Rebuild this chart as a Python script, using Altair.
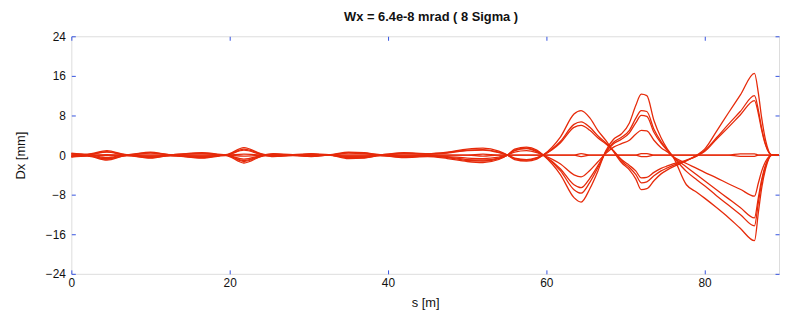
import altair as alt
import pandas as pd

S = [0, 2, 4.5, 7, 10, 12.5, 16.5, 19.5, 21.8, 24.5, 25.5, 28, 30.3, 32.5, 35, 37, 39, 42, 45,
     47.5, 50, 52, 54, 55.1, 56, 57.5, 58.8, 59.6, 61.8, 63.5, 64.4, 65.5, 66.5, 67.5, 68.5,
     69.5, 70.5, 71.3, 72.0, 72.7, 73.6, 74.5, 75.3, 76.0, 77.7, 79, 80, 81.5, 83, 84.5, 86.3,
     86.8, 87.2, 87.7, 88.5, 89.4]

# Dx [mm] of each trace
A1 = [0.4, 0.2, 0.9, 0.1, 0.6, 0.1, 0.5, 0.1, 1.5, 0.1, 0.3, 0.1, 0.3, 0.1, 0.6, 0.5, 0.1, 0.5, 0.3,
      0.6, 1.2, 1.4, 0.8, 0, -0.9, -1.2, -0.8, 0, 3.7, 8.3, 9.0, 7.5, 5.0, 3.0, 0.7,
      -1.5, -3.0, -4.8, -7.0, -6.8, -5.2, -3.8, -3.0, -2.4, -1.2, 0.0, 1.2, 4.8, 8.5, 12.1, 16.5,
      12.4, 7.6, 3.0, 0, 0]
A2 = [0.3, 0.1, 0.7, 0.1, 0.5, 0.1, 0.4, 0.0, 1.2, 0.1, 0.2, 0.0, 0.2, 0.0, 0.5, 0.4, 0.1, 0.4, 0.2,
      0.5, 1.0, 1.1, 0.6, 0, -0.7, -1.0, -0.6, 0, 2.8, 6.2, 6.7, 5.6, 3.9, 2.5, 0.8,
      -1.2, -2.5, -3.9, -5.6, -5.4, -4.2, -3.2, -2.6, -2.1, -1.1, -0.2, 0.9, 3.5, 6.2, 8.8, 12.0,
      9.0, 5.5, 2.2, 0, 0]
A3 = [0.2, 0.1, 0.6, 0.0, 0.4, 0.1, 0.3, 0.0, 1.0, 0.0, 0.2, 0.0, 0.2, 0.0, 0.4, 0.3, 0.0, 0.3, 0.2,
      0.4, 0.9, 1.0, 0.5, 0, -0.6, -0.9, -0.5, 0, 2.5, 5.6, 6.0, 5.0, 3.5, 2.3, 0.9,
      -0.9, -2.1, -3.2, -4.6, -4.5, -3.5, -2.7, -2.2, -1.8, -1.0, -0.2, 0.7, 3.2, 5.6, 8.1, 11.0,
      8.3, 5.1, 2.0, 0, 0]
B1 = [-0.4, -0.2, -1.0, -0.1, -0.6, -0.1, -0.6, -0.1, -1.6, -0.1, -0.3, -0.1, -0.3, 0.0, -0.7, -0.6, -0.1, -0.5, -0.3,
      -0.7, -1.3, -1.5, -0.9, 0, 1.2, 1.6, 1.0, 0, -4.0, -8.6, -9.5, -6.8, -3.3, 0.8, 3.2,
      4.3, 6.5, 10.0, 12.3, 12.0, 7.0, 3.5, 1.2, -0.3, -6.0, -7.5, -8.7, -10.6, -12.6, -14.8, -17.3,
      -11.5, -6.8, -2.8, 0, 0]
B2 = [-0.3, -0.1, -0.8, -0.1, -0.5, -0.1, -0.5, 0.0, -1.3, -0.1, -0.2, 0.0, -0.2, 0.0, -0.5, -0.5, -0.1, -0.4, -0.2,
      -0.5, -1.1, -1.2, -0.7, 0, 1.0, 1.4, 0.8, 0, -3.2, -7.0, -7.7, -5.5, -2.6, 0.6, 2.6,
      3.6, 5.0, 7.4, 9.0, 8.8, 5.2, 2.7, 1.0, -0.3, -3.3, -5.0, -6.2, -8.2, -10.1, -12.0, -14.3,
      -9.5, -5.6, -2.3, 0, 0]
B3 = [-0.3, -0.1, -0.7, 0.0, -0.4, -0.1, -0.4, 0.0, -1.1, 0.0, -0.2, 0.0, -0.2, 0.0, -0.4, -0.4, 0.0, -0.3, -0.2,
      -0.4, -0.9, -1.0, -0.6, 0, 0.9, 1.3, 0.7, 0, -2.8, -6.0, -6.6, -4.7, -2.2, 0.5, 2.3,
      3.2, 4.5, 6.5, 8.0, 7.8, 4.6, 2.4, 0.9, -0.3, -2.4, -4.0, -5.2, -7.0, -8.8, -10.6, -12.7,
      -8.5, -5.0, -2.0, 0, 0]
B4 = [-0.2, 0.1, -0.5, 0.1, -0.3, 0.0, -0.3, 0.0, -0.8, 0.0, -0.1, 0.0, -0.1, 0.0, -0.3, -0.3, 0.0, -0.2, -0.1,
      -0.3, -0.6, -0.7, -0.4, 0, 0.6, 0.9, 0.5, 0, -1.8, -4.0, -4.4, -3.1, -1.4, 0.3, 1.6,
      2.3, 3.0, 4.2, 5.0, 4.9, 3.0, 1.5, 0.6, -0.3, -1.7, -2.7, -3.5, -4.6, -5.8, -6.9, -8.3,
      -5.6, -3.3, -1.3, 0, 0]
Z1 = [0, 0, 0.1, 0, 0, 0, 0, 0, 0.2, 0, 0, 0, 0, 0, 0, 0, 0, 0, 0,
      0, 0, 0.2, 0, 0, 0, 0, 0, 0, 0, 0, 0.3, 0, 0, 0, 0,
      0, 0, 0, 0.3, 0.3, 0, 0, 0, 0, 0, 0, 0, 0, 0, 0.25, 0.25,
      0, 0, 0, 0, 0]
Z2 = [0, 0, -0.1, 0, 0, 0, 0, 0, -0.2, 0, 0, 0, 0, 0, 0, 0, 0, 0, 0,
      0, 0, -0.2, 0, 0, 0, 0, 0, 0, 0, 0, -0.3, 0, 0, 0, 0,
      0, 0, 0, -0.3, -0.3, 0, 0, 0, 0, 0, 0, 0, 0, 0, -0.25, -0.25,
      0, 0, 0, 0, 0]

X_TICKS = [0, 20, 40, 60, 80]
Y_TICKS = [-24, -16, -8, 0, 8, 16, 24]
TITLE = "Wx = 6.4e-8 mrad ( 8 Sigma )"

curves = {"A1": A1, "A2": A2, "A3": A3, "B1": B1, "B2": B2, "B3": B3, "B4": B4, "Z1": Z1, "Z2": Z2}
rows = []
for name, vals in curves.items():
    assert len(vals) == len(S), name
    for s, v in zip(S, vals):
        rows.append({"curve": name, "s": s, "dx": v})
df = pd.DataFrame(rows)

BLUE = "#3552e0"
RED = "#e62a0a"
FONT = "Liberation Sans"

xscale = alt.Scale(domain=[0, 89.4], nice=False, zero=False)
yscale = alt.Scale(domain=[-24, 24], nice=False)

common_axis = dict(offset=-4, tickSize=4, domain=False, grid=False, tickColor=BLUE,
                   labelFont=FONT, labelFontSize=12, labelColor="#111111",
                   titleFont=FONT, titleFontSize=13, titleFontWeight="normal", titleColor="#111111")

base = alt.Chart(df)

lines = base.mark_line(color=RED, strokeWidth=1.3, interpolate="monotone").encode(
    x=alt.X("s:Q", scale=xscale,
            axis=alt.Axis(orient="bottom", values=X_TICKS, title="s [m]", labelFlush=False,
                          labelPadding=4, titlePadding=8, **common_axis)),
    y=alt.Y("dx:Q", scale=yscale,
            axis=alt.Axis(orient="left", values=Y_TICKS, title="Dx [mm]", labelFlush=False,
                          labelPadding=6, titlePadding=18, **common_axis)),
    detail="curve:N",
    order="s:Q",
)

ghost = base.mark_line(opacity=0).encode(
    x=alt.X("s:Q", scale=xscale,
            axis=alt.Axis(orient="top", values=X_TICKS, labels=False, title="", **common_axis)),
    y=alt.Y("dx:Q", scale=yscale,
            axis=alt.Axis(orient="right", values=Y_TICKS, labels=False, title="", **common_axis)),
    detail="curve:N",
    order="s:Q",
)

chart = (
    alt.layer(lines, ghost)
    .resolve_axis(x="independent", y="independent")
    .properties(
        width=715,
        height=240,
        title=alt.TitleParams(TITLE, font=FONT, fontSize=13, fontWeight="bold", color="#111111",
                              anchor="middle", offset=6, dx=6),
        autosize=alt.AutoSizeParams(type="none"),
        padding={"left": 64, "top": 27, "right": 1, "bottom": 40},
    )
    .configure_view(stroke=BLUE, strokeWidth=1)
    .configure(background="white")
)

chart.save("out.html", embed_options={"renderer": "svg", "actions": False})
